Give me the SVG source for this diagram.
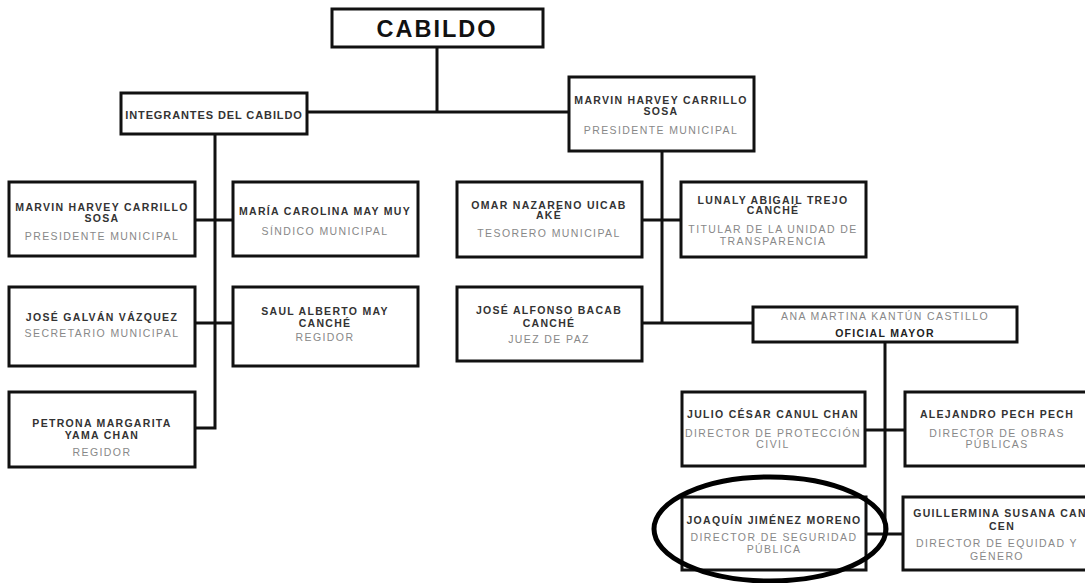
<svg xmlns="http://www.w3.org/2000/svg" width="1085" height="583" viewBox="0 0 1085 583">
<style>
.box{fill:#fff;stroke:#111;stroke-width:3}
.ln{fill:none;stroke:#111;stroke-width:3}
.nm{font-family:"Liberation Sans",Arial,sans-serif;font-weight:bold;font-size:10.5px;fill:#333;text-anchor:middle;letter-spacing:1.3px}
.rl{font-family:"Liberation Sans",Arial,sans-serif;font-size:10.5px;fill:#888;text-anchor:middle;letter-spacing:1.4px}
.ti{font-family:"Liberation Sans",Arial,sans-serif;font-weight:bold;font-size:23.5px;fill:#111;text-anchor:middle;letter-spacing:2px}
</style>
<g id="connectors">
<path class="ln" d="M437 47V112M306 112H569M215 134V428H195M195 220H233M195 323H233M662 151V323M642 220H681M642 323H753M885 342V534M865 430H905M866 534H903"/>
</g>
<g id="cabildo"><rect class="box" x="332" y="9" width="211" height="38"/><text class="ti" x="437" y="37">CABILDO</text></g>
<g id="integrantes"><rect class="box" x="121" y="93" width="186" height="41"/><text class="nm" x="214" y="119" style="font-size:11px;letter-spacing:0.9px">INTEGRANTES DEL CABILDO</text></g>
<g id="presidente"><rect class="box" x="569" y="77" width="185" height="74"/><text class="nm" x="661" y="104">MARVIN HARVEY CARRILLO</text><text class="nm" x="661" y="115">SOSA</text><text class="rl" x="661" y="134">PRESIDENTE MUNICIPAL</text></g>
<g id="presidente2"><rect class="box" x="9" y="182" width="186" height="74"/><text class="nm" x="102" y="211">MARVIN HARVEY CARRILLO</text><text class="nm" x="102" y="222">SOSA</text><text class="rl" x="102" y="240">PRESIDENTE MUNICIPAL</text></g>
<g id="sindico"><rect class="box" x="233" y="182" width="185" height="74"/><text class="nm" x="325" y="215">MARÍA CAROLINA MAY MUY</text><text class="rl" x="325" y="235">SÍNDICO MUNICIPAL</text></g>
<g id="secretario"><rect class="box" x="9" y="287" width="186" height="79"/><text class="nm" x="102" y="321">JOSÉ GALVÁN VÁZQUEZ</text><text class="rl" x="102" y="337">SECRETARIO MUNICIPAL</text></g>
<g id="regidor1"><rect class="box" x="233" y="287" width="185" height="79"/><text class="nm" x="325" y="315">SAUL ALBERTO MAY</text><text class="nm" x="325" y="327">CANCHÉ</text><text class="rl" x="325" y="341">REGIDOR</text></g>
<g id="regidor2"><rect class="box" x="9" y="392" width="186" height="75"/><text class="nm" x="102" y="427">PETRONA MARGARITA</text><text class="nm" x="102" y="439">YAMA CHAN</text><text class="rl" x="102" y="456">REGIDOR</text></g>
<g id="tesorero"><rect class="box" x="457" y="182" width="185" height="75"/><text class="nm" x="549" y="209">OMAR NAZARENO UICAB</text><text class="nm" x="549" y="219">AKÉ</text><text class="rl" x="549" y="237">TESORERO MUNICIPAL</text></g>
<g id="transparencia"><rect class="box" x="681" y="182" width="185" height="75"/><text class="nm" x="773" y="204">LUNALY ABIGAIL TREJO</text><text class="nm" x="773" y="214">CANCHÉ</text><text class="rl" x="773" y="233">TITULAR DE LA UNIDAD DE</text><text class="rl" x="773" y="245">TRANSPARENCIA</text></g>
<g id="juez"><rect class="box" x="457" y="287" width="185" height="74"/><text class="nm" x="549" y="314">JOSÉ ALFONSO BACAB</text><text class="nm" x="549" y="327">CANCHÉ</text><text class="rl" x="549" y="343">JUEZ DE PAZ</text></g>
<g id="oficial"><rect class="box" x="753" y="307" width="264" height="35"/><text class="rl" x="885" y="320">ANA MARTINA KANTÚN CASTILLO</text><text class="nm" x="885" y="337" style="fill:#222">OFICIAL MAYOR</text></g>
<g id="proteccion"><rect class="box" x="682" y="392" width="183" height="74"/><text class="nm" x="773" y="418">JULIO CÉSAR CANUL CHAN</text><text class="rl" x="773" y="437">DIRECTOR DE PROTECCIÓN</text><text class="rl" x="773" y="448">CIVIL</text></g>
<g id="obras"><rect class="box" x="905" y="392" width="190" height="74"/><text class="nm" x="997" y="418">ALEJANDRO PECH PECH</text><text class="rl" x="997" y="437">DIRECTOR DE OBRAS</text><text class="rl" x="997" y="448">PÚBLICAS</text></g>
<g id="seguridad"><rect class="box" x="682" y="497" width="184" height="73"/><text class="nm" x="774" y="524">JOAQUÍN JIMÉNEZ MORENO</text><text class="rl" x="774" y="541">DIRECTOR DE SEGURIDAD</text><text class="rl" x="774" y="553">PÚBLICA</text></g>
<g id="equidad"><rect class="box" x="903" y="497" width="192" height="73"/><text class="nm" x="1000" y="517">GUILLERMINA SUSANA CAN</text><text class="nm" x="1002" y="530">CEN</text><text class="rl" x="997" y="547">DIRECTOR DE EQUIDAD Y</text><text class="rl" x="997" y="560">GÉNERO</text></g>
<g id="highlight"><ellipse cx="770" cy="529" rx="116" ry="52" fill="none" stroke="#000" stroke-width="5"/></g>
</svg>
